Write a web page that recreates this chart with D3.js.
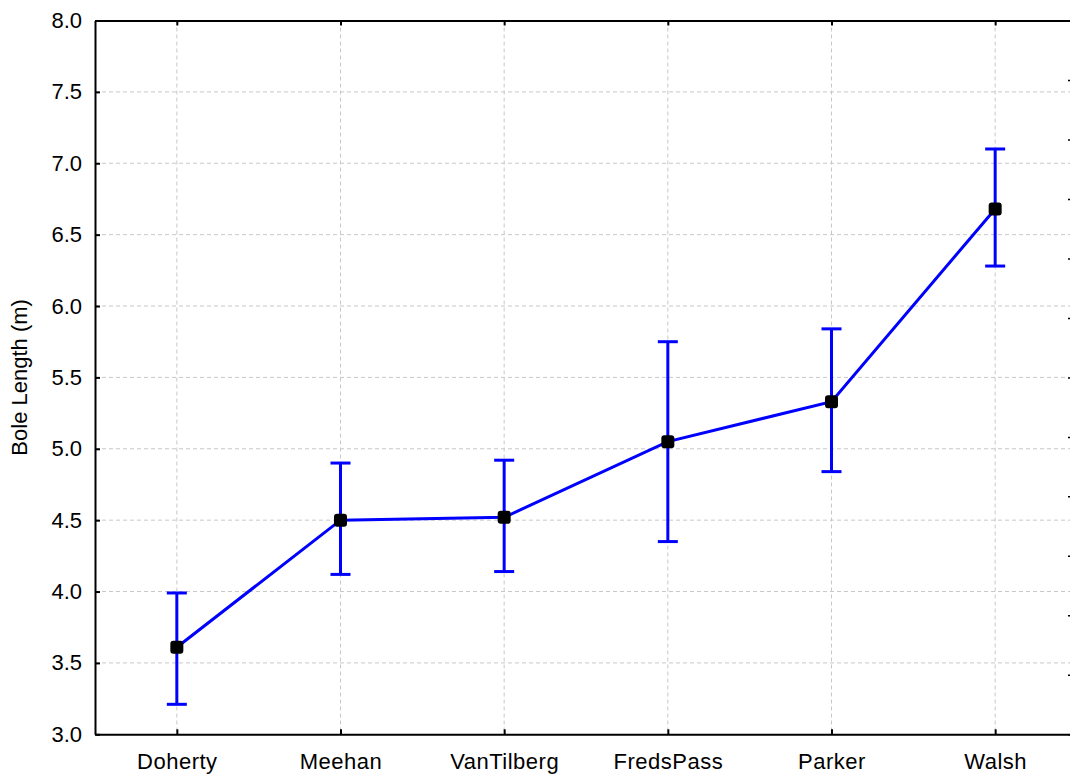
<!DOCTYPE html>
<html>
<head>
<meta charset="utf-8">
<script src="https://cdn.jsdelivr.net/npm/d3@7"></script>
<style>
  body { margin: 0; background: #fff; }
  svg { display: block; font-family: "Liberation Sans", Arial, sans-serif; }
</style>
</head>
<body>
<svg width="1070" height="776"></svg>
<script>
// sites along the x axis
const sites = ["Doherty", "Meehan", "VanTilberg", "FredsPass", "Parker", "Walsh"];
// mean bole length and the error bar ends
const means = [3.61, 4.50, 4.52, 5.05, 5.33, 6.68];
const upper = [3.99, 4.90, 4.92, 5.75, 5.84, 7.10];
const lower = [3.21, 4.12, 4.14, 4.35, 4.84, 6.28];
const yTicks = [3.0, 3.5, 4.0, 4.5, 5.0, 5.5, 6.0, 6.5, 7.0, 7.5, 8.0];

const svg = d3.select("svg"),
      mLeft = 95, mTop = 20.5, mRight = 1077, mBottom = 734.3;

const x = d3.scalePoint().domain(sites).range([mLeft, mRight]).padding(0.5);
const y = d3.scaleLinear().domain([3, 8]).range([mBottom, mTop]);
// the second (right hand) axis lies mostly outside the window
const yRight = d3.scaleLinear().domain([0, 12]).range([mBottom, mTop]);

const data = sites.map((s, i) => ({ site: s, mean: means[i], hi: upper[i], lo: lower[i] }));

// grid
svg.append("g").selectAll("line")
  .data(yTicks.slice(1, -1))
  .enter().append("line")
  .attr("x1", mLeft).attr("x2", mRight)
  .attr("y1", d => y(d)).attr("y2", d => y(d))
  .attr("stroke", "#c8c8c8").attr("stroke-dasharray", "4,3");

svg.append("g").selectAll("line")
  .data(sites)
  .enter().append("line")
  .attr("x1", d => x(d)).attr("x2", d => x(d))
  .attr("y1", mTop).attr("y2", mBottom)
  .attr("stroke", "#c8c8c8").attr("stroke-dasharray", "4,3");

// axes
const yAxis = d3.axisLeft(y).tickValues(yTicks).tickFormat(d3.format(".1f"))
                .tickSizeInner(-5).tickSizeOuter(0).tickPadding(13);
const gy = svg.append("g").attr("transform", "translate(" + mLeft + ",0)").call(yAxis);

const xAxis = d3.axisBottom(x).tickSizeInner(-5).tickSizeOuter(0).tickPadding(19);
const gx = svg.append("g").attr("transform", "translate(0," + mBottom + ")").call(xAxis);

const xTop = d3.axisTop(x).tickSizeInner(-5).tickSizeOuter(0).tickFormat("");
const gt = svg.append("g").attr("transform", "translate(0," + mTop + ")").call(xTop);

const yR = d3.axisRight(yRight).ticks(12).tickSizeInner(-9).tickSizeOuter(0).tickFormat("");
const gr = svg.append("g").attr("transform", "translate(" + mRight + ",0)").call(yR);

[gy, gx, gt, gr].forEach(g => {
  g.select(".domain").attr("stroke", "#000").attr("stroke-width", 2);
  g.selectAll(".tick line").attr("stroke", "#000").attr("stroke-width", 2);
  g.selectAll("text").attr("font-size", 22).attr("fill", "#000")
   .attr("font-family", "Liberation Sans, Arial, sans-serif");
});
gr.selectAll(".tick line").attr("stroke-width", 1.5);
gx.selectAll("text").attr("letter-spacing", 0.5);

svg.append("text")
  .attr("transform", "translate(27," + ((mTop + mBottom) / 2) + ") rotate(-90)")
  .attr("text-anchor", "middle")
  .attr("font-size", 22)
  .text("Bole Length (m)");

// error bars
const bars = svg.append("g").attr("stroke", "#0000ff").attr("stroke-width", 3);
bars.selectAll(".v").data(data).enter().append("line")
  .attr("x1", d => x(d.site)).attr("x2", d => x(d.site))
  .attr("y1", d => y(d.lo)).attr("y2", d => y(d.hi));
bars.selectAll(".ct").data(data).enter().append("line")
  .attr("x1", d => x(d.site) - 10).attr("x2", d => x(d.site) + 10)
  .attr("y1", d => y(d.hi)).attr("y2", d => y(d.hi));
bars.selectAll(".cb").data(data).enter().append("line")
  .attr("x1", d => x(d.site) - 10).attr("x2", d => x(d.site) + 10)
  .attr("y1", d => y(d.lo)).attr("y2", d => y(d.lo));

// mean line
svg.append("path").datum(data)
  .attr("fill", "none").attr("stroke", "#0000ff").attr("stroke-width", 3)
  .attr("d", d3.line().x(d => x(d.site)).y(d => y(d.mean)));

// markers
svg.append("g").selectAll("rect").data(data).enter().append("rect")
  .attr("x", d => x(d.site) - 6.5).attr("y", d => y(d.mean) - 6.5)
  .attr("width", 13).attr("height", 13).attr("rx", 3)
  .attr("fill", "#000");
</script>
</body>
</html>
